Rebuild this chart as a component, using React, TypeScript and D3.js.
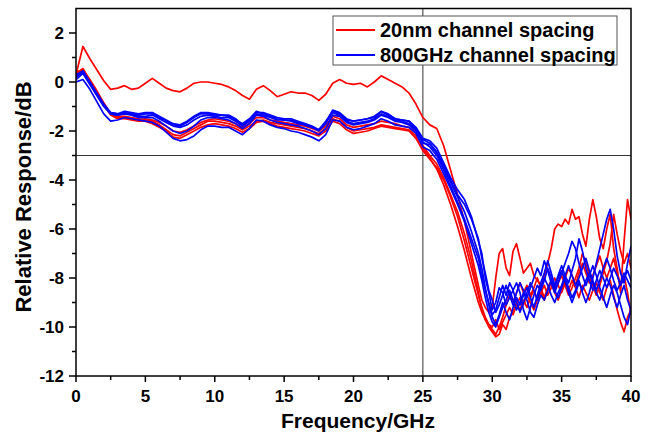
import React from 'react';
import * as d3 from 'd3';

// frequency grid (GHz)
const freqCoarse = d3.range(0, 29.001, 0.5);
const freqFine = d3.range(29.25, 40.001, 0.25);
const freq = [...freqCoarse, ...freqFine];

// 20nm channel spacing (red) responses, dB
const red0 = [
  0.3, 1.45, 0.95, 0.5, 0.05, -0.3, -0.25, -0.15, -0.3, -0.25,
  -0.05, 0.15, -0.05, -0.25, -0.35, -0.4, -0.25, -0.05, 0.0, 0.0,
  -0.05, -0.1, -0.2, -0.35, -0.55, -0.7, -0.3, -0.15, -0.35, -0.6,
  -0.5, -0.4, -0.45, -0.45, -0.55, -0.75, -0.5, -0.05, 0.1, -0.05,
  -0.1, -0.05, -0.2, 0.0, 0.25, 0.1, -0.05, -0.2, -0.45, -0.9,
  -1.45, -1.75, -1.9, -2.6, -3.6, -4.6, -5.7, -7.0, -8.3,
  -8.9, -9.2, -9.4, -9.2,
  -8.0, -7.0, -6.8, -7.6,
  -7.9, -6.9, -6.6, -7.2,
  -7.8, -7.6, -7.4, -7.9,
  -8.1, -8.3, -7.9, -7.4,
  -6.8, -6.0, -5.8, -5.9,
  -5.6, -5.8, -5.2, -5.6,
  -5.5, -6.2, -6.7, -5.6,
  -4.8, -5.5, -6.4, -6.8,
  -6.0, -5.4, -6.8, -7.6,
  -8.6, -6.5, -4.8, -5.6,
];
const red1 = [
  0.35, 0.55, 0.05, -0.4, -0.9, -1.3, -1.4, -1.4, -1.45, -1.5,
  -1.55, -1.6, -1.75, -1.95, -2.15, -2.2, -2.05, -1.9, -1.75, -1.6,
  -1.6, -1.65, -1.7, -1.8, -1.95, -1.8, -1.6, -1.55, -1.65, -1.7,
  -1.75, -1.8, -1.85, -1.9, -2.0, -2.1, -1.9, -1.5, -1.6, -1.85,
  -2.0, -1.95, -1.9, -1.85, -1.75, -1.8, -1.85, -1.9, -1.95, -2.2,
  -2.6, -3.0, -3.35, -3.9, -4.6, -5.3, -6.2, -7.3, -8.6,
  -9.3, -9.7, -10.0, -10.2,
  -10.4, -10.3, -9.9, -10.1,
  -9.6, -9.4, -9.0, -9.3,
  -8.9, -9.2, -8.8, -8.5,
  -8.9, -8.6, -8.3, -8.7,
  -8.4, -8.0, -8.3, -8.6,
  -8.2, -8.5, -8.1, -8.4,
  -8.8, -8.3, -8.6, -8.9,
  -8.5, -8.2, -8.6, -8.9,
  -8.4, -8.1, -8.7, -9.3,
  -9.8, -10.2, -9.6, -9.3,
];
const red2 = [
  0.25, 0.5, 0.0, -0.45, -0.95, -1.35, -1.5, -1.5, -1.55, -1.6,
  -1.6, -1.7, -1.85, -2.0, -2.25, -2.3, -2.15, -2.0, -1.85, -1.75,
  -1.7, -1.75, -1.8, -1.9, -2.05, -1.9, -1.65, -1.6, -1.7, -1.8,
  -1.85, -1.9, -1.95, -2.0, -2.1, -2.2, -2.0, -1.6, -1.7, -1.95,
  -2.1, -2.05, -2.0, -1.9, -1.8, -1.85, -1.9, -1.95, -2.0, -2.3,
  -2.8, -3.15, -3.5, -4.0, -4.7, -5.5, -6.5, -7.6, -8.7,
  -9.2, -9.6, -9.9, -10.0,
  -9.7, -10.1, -9.8, -9.5,
  -9.2, -9.5, -9.1, -8.8,
  -9.1, -8.7, -9.0, -9.3,
  -8.9, -8.6, -8.9, -8.5,
  -8.2, -8.6, -8.9, -8.5,
  -8.0, -7.6, -7.9, -8.3,
  -7.8, -7.4, -7.8, -8.2,
  -7.9, -7.5, -7.1, -7.6,
  -8.0, -7.6, -7.2, -7.8,
  -8.3, -7.9, -8.6, -9.5,
];
const red3 = [
  0.4, 0.5, 0.1, -0.35, -0.85, -1.3, -1.45, -1.45, -1.5, -1.55,
  -1.5, -1.55, -1.65, -1.8, -2.0, -2.05, -1.95, -1.8, -1.65, -1.55,
  -1.5, -1.55, -1.6, -1.7, -1.85, -1.7, -1.45, -1.45, -1.55, -1.6,
  -1.65, -1.7, -1.75, -1.8, -1.9, -2.0, -1.8, -1.4, -1.5, -1.75,
  -1.85, -1.8, -1.75, -1.7, -1.6, -1.65, -1.7, -1.8, -1.85, -2.1,
  -2.7, -3.1, -3.55, -4.2, -5.0, -5.9, -6.9, -8.0, -9.0,
  -9.4, -9.7, -9.9, -10.1,
  -10.3, -10.0, -9.6, -9.1,
  -8.7, -9.0, -8.6, -8.2,
  -8.6, -8.3, -8.7, -8.4,
  -8.0, -8.4, -8.8, -8.4,
  -8.1, -8.5, -8.2, -7.9,
  -8.3, -8.7, -8.4, -8.0,
  -7.6, -7.0, -7.4, -7.9,
  -8.3, -8.7, -8.3, -7.8,
  -7.3, -6.6, -5.4, -6.2,
  -6.9, -7.4, -7.0, -7.6,
];

// 800GHz channel spacing (blue) responses, dB
const blue1 = [
  0.2, 0.45, 0.0, -0.45, -0.9, -1.25, -1.3, -1.2, -1.25, -1.3,
  -1.25, -1.25, -1.4, -1.55, -1.7, -1.75, -1.6, -1.4, -1.25, -1.25,
  -1.3, -1.35, -1.35, -1.5, -1.75, -1.55, -1.25, -1.25, -1.35, -1.45,
  -1.5, -1.5, -1.6, -1.7, -1.8, -1.95, -1.6, -1.2, -1.3, -1.55,
  -1.6, -1.55, -1.5, -1.45, -1.2, -1.3, -1.5, -1.55, -1.6, -1.85,
  -2.3, -2.4, -2.7, -3.3, -3.9, -4.4, -4.8, -5.5, -6.5,
  -7.0, -8.0, -8.6, -9.3,
  -9.0, -8.4, -8.6, -9.1,
  -8.8, -8.5, -8.2, -8.6,
  -9.3, -9.7, -9.2, -8.7,
  -8.3, -8.5, -8.1, -7.6,
  -8.0, -8.5, -8.8, -8.4,
  -8.0, -8.4, -8.8, -8.5,
  -8.1, -8.6, -9.0, -8.6,
  -8.0, -7.4, -6.8, -6.2,
  -5.6, -5.2, -6.0, -7.1,
  -7.8, -8.2, -7.4, -6.7,
];
const blue2 = [
  0.1, 0.35, -0.1, -0.55, -1.0, -1.3, -1.35, -1.25, -1.3, -1.4,
  -1.4, -1.35, -1.5, -1.65, -1.8, -1.85, -1.75, -1.55, -1.4, -1.35,
  -1.4, -1.45, -1.45, -1.6, -1.8, -1.6, -1.3, -1.35, -1.45, -1.55,
  -1.55, -1.6, -1.7, -1.75, -1.85, -2.0, -1.7, -1.25, -1.35, -1.6,
  -1.7, -1.65, -1.6, -1.5, -1.3, -1.4, -1.55, -1.6, -1.7, -1.95,
  -2.5, -2.55, -2.9, -3.5, -4.1, -4.7, -5.3, -6.1, -7.0,
  -7.6, -8.4, -9.1, -9.6,
  -9.9, -9.5, -9.0, -9.4,
  -9.7, -9.2, -8.8, -9.1,
  -8.7, -8.4, -8.8, -9.2,
  -8.7, -8.2, -7.8, -7.3,
  -7.8, -8.3, -7.9, -7.5,
  -7.9, -8.2, -7.7, -7.2,
  -6.4, -6.9, -7.6, -8.1,
  -8.5, -8.1, -7.7, -8.0,
  -8.4, -8.0, -7.6, -7.9,
  -8.3, -8.0, -7.7, -8.1,
];
const blue3 = [
  0.0, 0.1, -0.3, -0.8, -1.3, -1.6, -1.55, -1.45, -1.5, -1.55,
  -1.6, -1.65, -1.8, -2.05, -2.3, -2.4, -2.35, -2.2, -1.95, -1.8,
  -1.8, -1.85, -1.85, -2.0, -2.15, -1.9, -1.55, -1.6, -1.75, -1.85,
  -1.9, -2.0, -2.05, -2.15, -2.25, -2.4, -2.15, -1.55, -1.6, -1.85,
  -1.95, -1.9, -1.8, -1.7, -1.5, -1.6, -1.75, -1.8, -1.85, -2.1,
  -2.65, -2.8, -3.15, -3.75, -4.35, -5.0, -5.7, -6.6, -7.5,
  -8.1, -8.8, -9.4, -9.8,
  -10.0, -9.6, -9.2, -8.9,
  -8.5, -8.9, -9.3, -9.0,
  -8.6, -8.9, -9.4, -9.6,
  -9.1, -8.7, -8.9, -8.5,
  -8.1, -8.4, -8.0, -7.7,
  -8.1, -8.6, -9.0, -8.6,
  -8.2, -8.5, -8.1, -7.8,
  -8.2, -8.6, -8.9, -8.4,
  -8.0, -8.3, -8.8, -9.2,
  -8.7, -8.3, -8.9, -9.3,
];
const blue4 = [
  0.2, 0.4, -0.05, -0.5, -0.95, -1.25, -1.3, -1.3, -1.3, -1.35,
  -1.3, -1.3, -1.45, -1.6, -1.75, -1.8, -1.65, -1.45, -1.3, -1.3,
  -1.35, -1.35, -1.4, -1.55, -1.7, -1.5, -1.2, -1.3, -1.4, -1.5,
  -1.55, -1.55, -1.65, -1.75, -1.85, -1.95, -1.65, -1.15, -1.25, -1.5,
  -1.6, -1.55, -1.5, -1.4, -1.2, -1.35, -1.5, -1.55, -1.6, -1.9,
  -2.35, -2.5, -2.85, -3.4, -4.0, -4.6, -5.0, -5.6, -6.4,
  -7.2, -7.8, -8.5, -8.9,
  -9.4, -9.1, -8.7, -8.3,
  -8.7, -9.1, -8.6, -8.2,
  -8.5, -8.8, -8.4, -8.0,
  -7.6, -7.9, -7.3, -7.7,
  -8.2, -8.6, -8.2, -7.8,
  -7.4, -7.0, -6.5, -6.8,
  -7.4, -7.9, -8.3, -7.9,
  -7.5, -7.9, -8.4, -8.8,
  -9.2, -8.7, -8.3, -8.6,
  -9.1, -9.6, -9.9, -9.2,
];
const blue5 = [
  0.3, 0.45, 0.0, -0.5, -0.95, -1.3, -1.35, -1.3, -1.35, -1.45,
  -1.45, -1.45, -1.6, -1.8, -2.0, -2.1, -2.0, -1.8, -1.55, -1.45,
  -1.45, -1.5, -1.55, -1.7, -1.9, -1.7, -1.35, -1.4, -1.55, -1.65,
  -1.7, -1.75, -1.8, -1.9, -2.0, -2.15, -1.9, -1.35, -1.4, -1.65,
  -1.75, -1.7, -1.65, -1.55, -1.35, -1.45, -1.6, -1.65, -1.75, -2.0,
  -2.45, -2.65, -3.0, -3.6, -4.25, -4.9, -5.6, -6.4, -7.2,
  -7.9, -8.5, -9.0, -9.5,
  -9.3, -8.8, -8.3, -8.7,
  -8.2, -8.5, -9.0, -9.4,
  -9.0, -8.6, -8.2, -8.5,
  -8.9, -8.4, -8.0, -8.3,
  -8.7, -9.0, -8.6, -8.3,
  -7.9, -7.5, -7.9, -8.3,
  -8.0, -7.6, -7.2, -7.7,
  -8.1, -8.5, -8.1, -7.6,
  -7.2, -7.6, -8.1, -8.5,
  -8.2, -7.8, -8.1, -8.4,
];

const redSeries = [red0, red1, red2, red3];
const blueSeries = [blue1, blue2, blue3, blue4, blue5];

const xMajorTicks = [0, 5, 10, 15, 20, 25, 30, 35, 40];
const xMinorTicks = [2.5, 7.5, 12.5, 17.5, 22.5, 27.5, 32.5, 37.5];
const yMajorTicks = [-12, -10, -8, -6, -4, -2, 0, 2];
const yMinorTicks = [-11, -9, -7, -5, -3, -1, 1];
const refX = 25;
const refY = -3;
const legendLabels = ['20nm channel spacing', '800GHz channel spacing'];
const xTitle = 'Frequency/GHz';
const yTitle = 'Relative Response/dB';

const W = 653;
const H = 441;
const M = { left: 76, right: 631, top: 8.5, bottom: 376 };
const FONT = '"Liberation Sans", Arial, Helvetica, sans-serif';
const RED = '#ff0000';
const BLUE = '#0000ff';

export default function App() {
  const x = d3.scaleLinear().domain([0, 40]).range([M.left, M.right]);
  const y = d3.scaleLinear().domain([-12, 3]).range([M.bottom, M.top]);
  const line = d3
    .line<number>()
    .x((_, i) => x(freq[i]))
    .y((d) => y(d));

  const clipId = 'plotclip';
  return (
    <svg
      width={W}
      height={H}
      style={{ position: 'absolute', left: 0, top: 0, background: '#fff' }}
      fontFamily={FONT}
    >
      <rect x={0} y={0} width={W} height={H} fill="#fff" />
      <defs>
        <clipPath id={clipId}>
          <rect x={M.left} y={M.top} width={M.right - M.left} height={M.bottom - M.top} />
        </clipPath>
      </defs>

      {/* reference lines */}
      <line x1={x(refX)} x2={x(refX)} y1={M.top} y2={M.bottom} stroke="#333" strokeWidth={1} />
      <line x1={M.left} x2={M.right} y1={y(refY)} y2={y(refY)} stroke="#333" strokeWidth={1} />

      <g clipPath={`url(#${clipId})`} fill="none" strokeWidth={1.7} strokeLinejoin="round">
        {redSeries.map((s, i) => (
          <path key={'r' + i} d={line(s.slice(0, freq.length)) || ''} stroke={RED} />
        ))}
        {blueSeries.map((s, i) => (
          <path key={'b' + i} d={line(s.slice(0, freq.length)) || ''} stroke={BLUE} />
        ))}
      </g>

      {/* frame */}
      <rect
        x={M.left}
        y={M.top}
        width={M.right - M.left}
        height={M.bottom - M.top}
        fill="none"
        stroke="#000"
        strokeWidth={1.5}
      />

      {/* x ticks */}
      {xMajorTicks.map((t) => (
        <g key={'xt' + t}>
          <line x1={x(t)} x2={x(t)} y1={M.bottom} y2={M.bottom + 6} stroke="#000" strokeWidth={1.5} />
          <text x={x(t)} y={402} textAnchor="middle" fontSize={17} fontWeight="bold" fill="#000">
            {t}
          </text>
        </g>
      ))}
      {xMinorTicks.map((t) => (
        <line key={'xm' + t} x1={x(t)} x2={x(t)} y1={M.bottom} y2={M.bottom + 4} stroke="#000" strokeWidth={1.5} />
      ))}

      {/* y ticks */}
      {yMajorTicks.map((t) => (
        <g key={'yt' + t}>
          <line x1={M.left - 7} x2={M.left} y1={y(t)} y2={y(t)} stroke="#000" strokeWidth={1.5} />
          <text x={64} y={y(t) + 6} textAnchor="end" fontSize={17} fontWeight="bold" fill="#000">
            {t}
          </text>
        </g>
      ))}
      {yMinorTicks.map((t) => (
        <line key={'ym' + t} x1={M.left - 4} x2={M.left} y1={y(t)} y2={y(t)} stroke="#000" strokeWidth={1.5} />
      ))}

      {/* axis titles */}
      <text x={358} y={428} textAnchor="middle" fontSize={21} fontWeight="bold" fill="#000">
        {xTitle}
      </text>
      <text
        transform={`translate(31, 197) rotate(-90)`}
        textAnchor="middle"
        fontSize={22}
        fontWeight="bold"
        fill="#000"
      >
        {yTitle}
      </text>

      {/* legend */}
      <rect x={333} y={16} width={284} height={49} fill="#fff" stroke="#555" strokeWidth={1} />
      {legendLabels.map((lab, i) => (
        <g key={lab}>
          <line x1={336} x2={375} y1={30 + i * 25} y2={30 + i * 25} stroke={i === 0 ? RED : BLUE} strokeWidth={2} />
          <text x={380} y={37 + i * 25} fontSize={20} fontWeight="bold" fill="#000">
            {lab}
          </text>
        </g>
      ))}
    </svg>
  );
}
